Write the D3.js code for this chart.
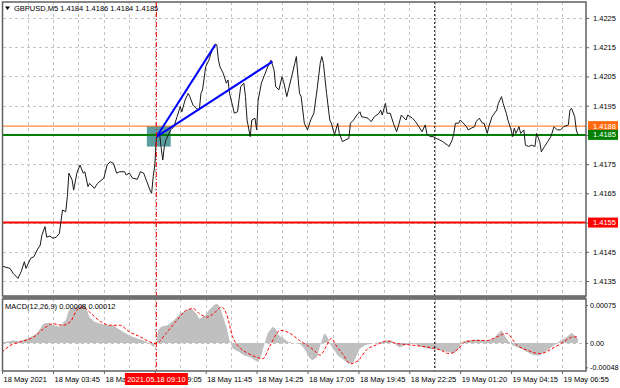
<!DOCTYPE html>
<html>
<head>
<meta charset="utf-8">
<script src="https://cdn.jsdelivr.net/npm/d3@7/dist/d3.min.js"></script>
<style>
body { margin: 0; background: #fff; }
svg text { font-family: "Liberation Sans", Arial, sans-serif; font-size: 7.5px; fill: #000; }
</style>
</head>
<body>
<svg id="chart" width="620" height="388"></svg>
<script>
// Data (bar index = 5-minute bar counted from the left edge)
const priceBars = [0,5,7,10,12,14,15,18,20,22,24,25,27,28,30,32,34,36,37,38,40,41,42,44,45,47,49,51,52,54,55,58,60,64,66,68,70,72,74,77,78,80,82,85,87,89,91,93,94,95,96,97,99,100,101,102,103,106,108,110,112,113,115,117,118,120,122,124,125,126,128,130,132,134,135,136,137,139,141,142,143,145,146,148,150,152,153,154,156,157,159,160,161,163,165,167,169,171,172,174,176,177,179,180,182,184,185,186,187,188,190,192,194,196,198,200,201,202,204,206,207,209,211,212,214,216,218,219,221,223,225,226,228,230,232,234,237,238,239,241,242,244,246,248,249,251,252,254,255,258,260,262,264,266,267,269,271,273,275,277,280,281,283,284,285,287,288,290,292,293,295,297,298,300,302,303,305,306,308,311,312,314,315,317,318,320,321,322,323,325,326,328,329,331,333,335,336,338,339,341,343,345,347,349,351,353,356,357,358,360,361,362];
const priceClose = [1.41401,1.41393,1.41376,1.41359,1.41382,1.41416,1.41393,1.41428,1.41433,1.41456,1.41473,1.41507,1.41536,1.41500,1.41504,1.41496,1.41500,1.41513,1.41553,1.41593,1.41587,1.41638,1.41719,1.41696,1.41661,1.41719,1.41747,1.41719,1.41724,1.41673,1.41684,1.41667,1.41684,1.41702,1.41747,1.41758,1.41753,1.41719,1.41724,1.41724,1.41713,1.41719,1.41702,1.41698,1.41724,1.41719,1.41690,1.41661,1.41650,1.41707,1.41747,1.41839,1.41855,1.41806,1.41764,1.41810,1.41833,1.41867,1.41878,1.41912,1.41947,1.41929,1.41969,1.41992,1.41981,1.41952,1.41941,1.41935,1.41992,1.42004,1.42083,1.42106,1.42140,1.42161,1.42158,1.42106,1.42083,1.42061,1.42027,1.42038,1.41992,1.41947,1.41924,1.41929,1.42015,1.42027,1.41981,1.41901,1.41844,1.41901,1.41907,1.41867,1.41969,1.42027,1.42055,1.42083,1.42106,1.42072,1.42015,1.42004,1.42049,1.42032,1.41981,1.42004,1.42049,1.42095,1.42118,1.42049,1.41992,1.41981,1.41890,1.41867,1.41901,1.41924,1.42004,1.42095,1.42118,1.42095,1.41992,1.41901,1.41890,1.41850,1.41890,1.41855,1.41827,1.41833,1.41838,1.41890,1.41901,1.41918,1.41929,1.41912,1.41910,1.41907,1.41895,1.41912,1.41924,1.41935,1.41918,1.41958,1.41924,1.41924,1.41890,1.41861,1.41878,1.41918,1.41912,1.41901,1.41918,1.41907,1.41895,1.41878,1.41861,1.41884,1.41855,1.41844,1.41844,1.41838,1.41833,1.41827,1.41815,1.41810,1.41833,1.41855,1.41890,1.41890,1.41901,1.41890,1.41878,1.41867,1.41873,1.41878,1.41895,1.41907,1.41890,1.41890,1.41855,1.41878,1.41912,1.41935,1.41958,1.41981,1.41958,1.41924,1.41901,1.41867,1.41844,1.41873,1.41855,1.41878,1.41855,1.41867,1.41815,1.41810,1.41815,1.41810,1.41855,1.41827,1.41792,1.41810,1.41827,1.41844,1.41878,1.41867,1.41867,1.41878,1.41884,1.41935,1.41941,1.41912,1.41867,1.41850];

const histBars = [0,7,11,18,22,26,29,32,36,40,42,44,46,49,51,53,55,58,62,66,70,73,76,80,85,89,93,95,97,98,100,104,108,112,116,119,122,124,128,130,133,135,137,139,141,143,145,149,152,156,159,161,163,165,167,170,172,174,177,180,183,187,190,193,195,198,200,202,203,205,206,208,211,215,218,221,223,225,228,232,238,242,245,248,250,253,259,263,267,273,280,284,287,289,292,298,305,309,312,314,316,318,321,326,330,334,338,343,347,351,355,358,360,362];
const histValues = [0.00001,0.00005,0.00003,0.00012,0.00019,0.00038,0.00040,0.00035,0.00032,0.00045,0.00065,0.00068,0.00071,0.00074,0.00078,0.00068,0.00051,0.00042,0.00038,0.00035,0.00035,0.00028,0.00022,0.00015,0.00009,0.00005,-0.00001,-0.00008,-0.00001,0.00025,0.00032,0.00035,0.00045,0.00058,0.00065,0.00068,0.00058,0.00048,0.00055,0.00065,0.00074,0.00078,0.00071,0.00051,0.00032,0.00005,-0.00011,-0.00018,-0.00024,-0.00028,-0.00034,-0.00038,-0.00024,-0.00001,0.00019,0.00032,0.00028,0.00015,0.00009,0.00002,0.00000,-0.00001,-0.00011,-0.00028,-0.00034,-0.00028,-0.00005,0.00015,0.00019,0.00009,-0.00001,-0.00011,-0.00024,-0.00034,-0.00041,-0.00038,-0.00024,-0.00011,-0.00005,-0.00001,0.00002,0.00005,0.00005,-0.00005,-0.00009,-0.00005,-0.00001,-0.00007,-0.00011,-0.00013,-0.00018,-0.00021,-0.00011,0.00002,0.00005,0.00007,0.00005,0.00009,0.00019,0.00025,0.00015,0.00005,-0.00005,-0.00011,-0.00018,-0.00024,-0.00024,-0.00014,-0.00005,0.00005,0.00012,0.00020,0.00015,0.00008];

const signalBars = [0,5,11,20,26,32,38,43,47,51,55,62,68,74,80,87,93,97,103,110,116,120,124,129,134,138,141,145,150,155,160,164,168,175,181,187,192,196,200,204,207,210,214,219,224,229,236,242,248,254,260,267,275,281,287,291,298,305,311,317,324,330,338,347,353,359,362];
const signalValues = [-0.00018,-0.00005,0.00002,0.00012,0.00028,0.00038,0.00035,0.00042,0.00065,0.00071,0.00061,0.00042,0.00035,0.00035,0.00022,0.00012,0.00002,-0.00001,0.00019,0.00045,0.00065,0.00068,0.00058,0.00051,0.00061,0.00071,0.00058,0.00012,-0.00011,-0.00021,-0.00028,-0.00031,-0.00008,0.00025,0.00019,0.00005,-0.00005,-0.00014,-0.00024,-0.00005,0.00009,-0.00005,-0.00021,-0.00041,-0.00034,-0.00014,-0.00003,0.00004,-0.00001,-0.00003,-0.00005,-0.00008,-0.00013,-0.00021,-0.00011,0.00002,0.00005,0.00005,0.00012,0.00019,-0.00005,-0.00014,-0.00021,-0.00009,0.00002,0.00012,0.00012];

const priceTicks = [1.4135,1.4145,1.4155,1.4165,1.4175,1.4185,1.4195,1.4205,1.4215,1.4225];
const macdTicks = [0.00075, 0, -0.00048];
const macdTickLabels = ['0.00075', '0.00', '-0.00048'];
const timeTickBars = [0,32,64,96,128,160,192,224,256,288,320,352];
const timeTickLabels = ['18 May 2021','18 May 03:45','18 May 06:25','18 May 09:05','18 May 11:45','18 May 14:25','18 May 17:05','18 May 19:45','18 May 22:25','19 May 01:20','19 May 04:15','19 May 06:55'];

const levelPrices = [1.4188, 1.4185, 1.4155];
const boxBars = [91, 106];
const boxPrices = [1.4181, 1.4188];
const trendStart = [97, 1.41843];
const trendEnds = [[134, 1.42158], [170, 1.42101]];
const cursorBar = 97;
const cursorLabel = '2021.05.18 09:10';
const separatorBar = 272;
const titleText = 'GBPUSD,M5  1.4184 1.4186 1.4184 1.4185';
const macdText = 'MACD(12,26,9) 0.00008 0.00012';

// Layout
const left = 2.1, right = 586;
const mainTop = 2, mainBottom = 296;
const macdTop = 299, macdBottom = 371;

const svg = d3.select('#chart');

const x = d3.scaleLinear().domain([0, (right - left) / 1.5906]).range([left, right]);
const y = d3.scaleLinear().domain([1.4135, 1.4225]).range([281, 18]);
const ym = d3.scaleLinear().domain([-0.00048, 0.00075]).range([367.3, 305]);

// clip paths
const defs = svg.append('defs');
defs.append('clipPath').attr('id', 'clipMain').append('rect')
    .attr('x', 3).attr('y', mainTop).attr('width', right - 3).attr('height', mainBottom - mainTop);
defs.append('clipPath').attr('id', 'clipMacd').append('rect')
    .attr('x', 3).attr('y', macdTop).attr('width', right - 3).attr('height', macdBottom - macdTop);

// Grid
const gridColor = '#c4c4c4';
const vGrid = d3.range(16, 367, 16);
[[mainTop, mainBottom], [macdTop, macdBottom]].forEach(p => {
    svg.append('g').selectAll('line').data(vGrid).join('line')
        .attr('x1', d => Math.round(x(d)) + 0.5).attr('x2', d => Math.round(x(d)) + 0.5)
        .attr('y1', p[0]).attr('y2', p[1])
        .attr('stroke', gridColor).attr('stroke-dasharray', '3,3');
});
svg.append('g').selectAll('line').data(priceTicks).join('line')
    .attr('x1', 3).attr('x2', right)
    .attr('y1', d => Math.round(y(d)) + 0.5).attr('y2', d => Math.round(y(d)) + 0.5)
    .attr('stroke', gridColor).attr('stroke-dasharray', '3,3');
svg.append('line')
    .attr('x1', 3).attr('x2', right)
    .attr('y1', Math.round(ym(0)) + 0.5).attr('y2', Math.round(ym(0)) + 0.5)
    .attr('stroke', gridColor).attr('stroke-dasharray', '3,3');

// Main panel
const main = svg.append('g').attr('clip-path', 'url(#clipMain)');

main.append('rect')
    .attr('x', x(boxBars[0])).attr('width', x(boxBars[1]) - x(boxBars[0]))
    .attr('y', y(boxPrices[1])).attr('height', y(boxPrices[0]) - y(boxPrices[1]))
    .attr('fill', '#5a9ea0');

const levelStyle = [
    {color: '#ff6a10', width: 1},
    {color: '#008000', width: 2},
    {color: '#ff0000', width: 2}
];
main.selectAll('line.level').data(levelPrices).join('line')
    .attr('class', 'level')
    .attr('x1', 3).attr('x2', right)
    .attr('y1', d => y(d)).attr('y2', d => y(d))
    .attr('stroke', (d, i) => levelStyle[i].color)
    .attr('stroke-width', (d, i) => levelStyle[i].width);

const priceData = priceBars.map((b, i) => [b, priceClose[i]]);
main.append('path')
    .datum(priceData)
    .attr('d', d3.line().x(d => x(d[0])).y(d => y(d[1])))
    .attr('fill', 'none')
    .attr('stroke', '#1a1a1a')
    .attr('stroke-width', 1);

main.selectAll('line.trend').data(trendEnds).join('line')
    .attr('class', 'trend')
    .attr('x1', x(trendStart[0])).attr('y1', y(trendStart[1]))
    .attr('x2', d => x(d[0])).attr('y2', d => y(d[1]))
    .attr('stroke', '#0000ff').attr('stroke-width', 2);

// MACD panel
const macd = svg.append('g').attr('clip-path', 'url(#clipMacd)');
const histData = histBars.map((b, i) => [b, histValues[i]]);
macd.append('path')
    .datum(histData)
    .attr('d', d3.area().x(d => x(d[0])).y0(ym(0)).y1(d => ym(d[1])))
    .attr('fill', '#c0c0c0');

const signalData = signalBars.map((b, i) => [b, signalValues[i]]);
macd.append('path')
    .datum(signalData)
    .attr('d', d3.line().curve(d3.curveMonotoneX).x(d => x(d[0])).y(d => ym(d[1])))
    .attr('fill', 'none')
    .attr('stroke', '#ff0000')
    .attr('stroke-width', 1)
    .attr('stroke-dasharray', '3,2');

// Vertical markers
svg.append('line')
    .attr('x1', x(separatorBar)).attr('x2', x(separatorBar))
    .attr('y1', mainTop).attr('y2', macdBottom)
    .attr('stroke', '#000').attr('stroke-dasharray', '2,2');
svg.append('line')
    .attr('x1', x(cursorBar)).attr('x2', x(cursorBar))
    .attr('y1', mainTop).attr('y2', macdBottom)
    .attr('stroke', '#ff0000').attr('stroke-dasharray', '5,2,1,2');

// Frames
[[mainTop, mainBottom], [macdTop, macdBottom]].forEach(p => {
    svg.append('rect')
        .attr('x', 2.5).attr('y', p[0])
        .attr('width', right - 2.5).attr('height', p[1] - p[0])
        .attr('fill', 'none').attr('stroke', '#606060').attr('stroke-width', 1.5);
});
svg.append('rect').attr('x', 2.5).attr('y', mainBottom).attr('width', right - 2.5)
    .attr('height', macdTop - mainBottom).attr('fill', '#707070');

// Price axis
const priceAxis = svg.append('g')
    .attr('transform', `translate(${right},0)`)
    .call(d3.axisRight(y).tickValues(priceTicks).tickFormat(d3.format('.4f')).tickSize(3).tickPadding(4));
priceAxis.select('.domain').remove();
priceAxis.selectAll('line').attr('stroke', '#606060');

// level labels on the axis
const levelLabels = svg.append('g').selectAll('g').data(levelPrices).join('g')
    .attr('transform', d => `translate(${right + 2},${y(d)})`);
levelLabels.append('rect')
    .attr('x', 0).attr('y', -5).attr('width', 30).attr('height', 10)
    .attr('fill', (d, i) => levelStyle[i].color);
levelLabels.append('text')
    .attr('x', 5).attr('dy', '0.34em')
    .style('fill', '#fff')
    .text(d => d3.format('.4f')(d));

// MACD axis
const macdAxis = svg.append('g')
    .attr('transform', `translate(${right},0)`)
    .call(d3.axisRight(ym).tickValues(macdTicks).tickFormat((d, i) => macdTickLabels[i]).tickSize(2).tickPadding(2));
macdAxis.select('.domain').remove();
macdAxis.selectAll('line').attr('stroke', '#606060');

// Time axis
const timeAxis = svg.append('g')
    .attr('transform', `translate(0,${macdBottom})`)
    .call(d3.axisBottom(x).tickValues(timeTickBars).tickFormat((d, i) => timeTickLabels[i]).tickSize(3).tickPadding(3));
timeAxis.select('.domain').remove();
timeAxis.selectAll('line').attr('stroke', '#606060');
timeAxis.selectAll('text').attr('text-anchor', 'start').attr('dx', 1);

svg.selectAll('.tick text').style('font-family', '"Liberation Sans", Arial, sans-serif').style('font-size', '7.5px');
macdAxis.selectAll('text').style('font-size', '7.2px');

// cursor time label (covers the 09:05 tick label, as in the terminal)
const cx = x(cursorBar);
svg.append('rect')
    .attr('x', cx - 31.5).attr('y', 373).attr('width', 63).attr('height', 12)
    .attr('fill', '#ff0000');
svg.append('text')
    .attr('x', cx).attr('y', 379).attr('dy', '0.34em')
    .attr('text-anchor', 'middle')
    .style('fill', '#fff')
    .text(cursorLabel);

// Titles
svg.append('path').attr('d', 'M5,6.5 L10,6.5 L7.5,10 Z').attr('fill', '#000');
svg.append('text').attr('x', 14).attr('y', 11).text(titleText);
svg.append('text').attr('x', 5).attr('y', 309).text(macdText);
</script>
</body>
</html>
